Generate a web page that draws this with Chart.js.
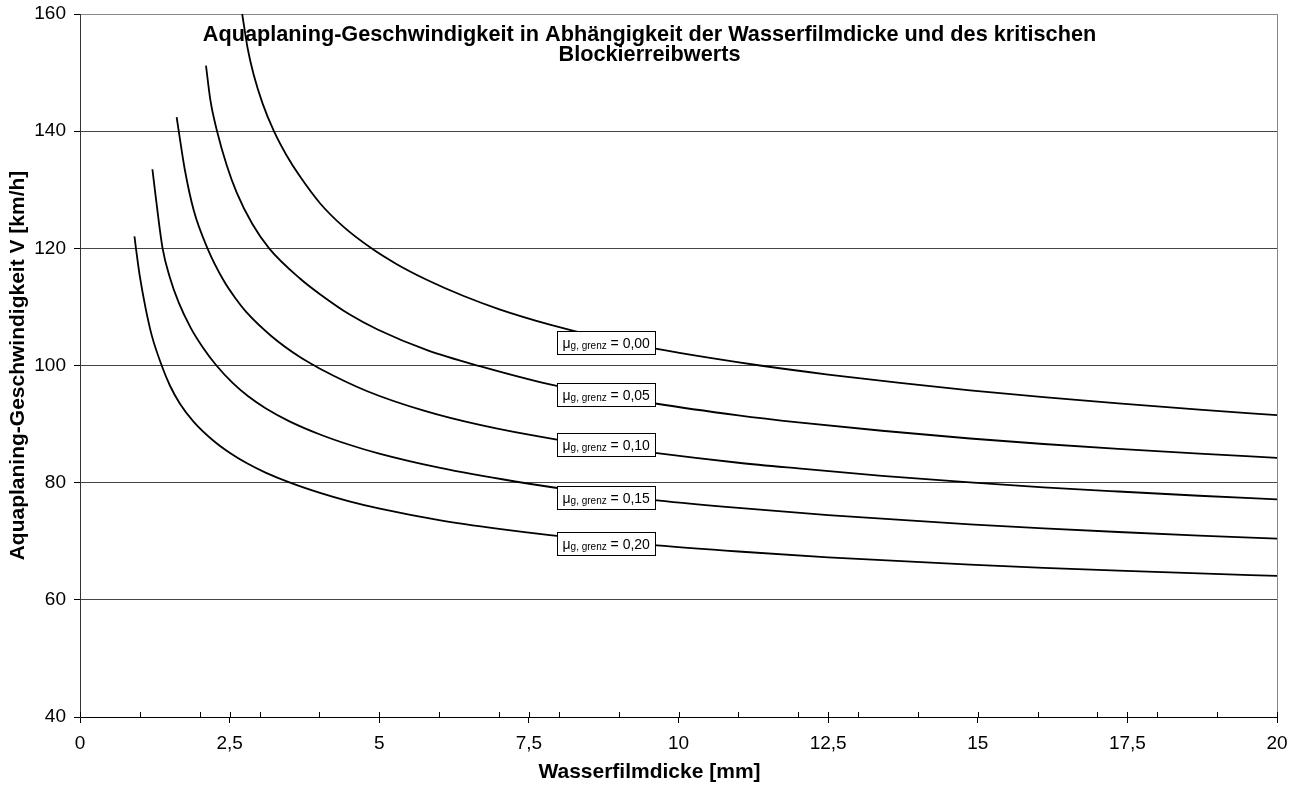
<!DOCTYPE html>
<html><head><meta charset="utf-8">
<script src="https://cdn.jsdelivr.net/npm/chart.js@4/dist/chart.umd.min.js"></script>
<style>html,body{margin:0;padding:0;background:#fff;overflow:hidden}#wrap{width:1295px;height:787px;position:relative}</style>
</head><body><div id="wrap"><canvas id="c"></canvas></div>
<script>
// ---- data ----
const seriesNames = ['0,00', '0,05', '0,10', '0,15', '0,20'];

const h000 = [2.71, 2.80, 2.90, 3.05, 3.24, 3.45, 3.68, 4.01, 4.40, 4.87, 5.30, 5.81, 6.40, 7.02, 7.85, 8.70, 9.64, 10.50, 11.36, 12.50, 13.70, 14.87, 16.10, 17.35, 18.70, 20];
const v000 = [160, 154.2, 149.7, 144.75, 140.0, 135.9, 132.2, 127.7, 123.7, 120.0, 117.25, 114.55, 111.9, 109.55, 106.98, 104.8, 102.83, 101.33, 100.0, 98.46, 97.02, 95.77, 94.6, 93.52, 92.47, 91.53];

const h005 = [2.105, 2.18, 2.29, 2.45, 2.62, 2.88, 3.16, 3.68, 4.01, 4.50, 4.98, 5.81, 6.68, 7.85, 9.64, 11.0, 12.0, 13.4, 14.87, 16.1, 17.35, 18.7, 20];
const v005 = [151.2, 145.2, 140.0, 134.24, 129.48, 124.15, 120.0, 114.8, 112.16, 108.73, 106.1, 102.58, 99.88, 96.78, 93.47, 91.5, 90.3, 88.86, 87.54, 86.6, 85.78, 84.97, 84.24];

const h010 = [1.615, 1.65, 1.75, 1.90, 2.13, 2.40, 2.61, 2.78, 3.20, 3.68, 3.90, 4.01, 4.80, 5.76, 6.70, 7.85, 9.64, 11.0, 12.0, 13.4, 14.87, 16.1, 17.35, 18.7, 20];
const v010 = [142.4, 140.0, 133.5, 126.5, 120.0, 114.5, 111.3, 109.1, 105.0, 101.4, 100.1, 99.45, 95.61, 92.25, 89.81, 87.57, 85.03, 83.4, 82.43, 81.17, 80.05, 79.21, 78.49, 77.77, 77.15];

const h015 = [1.21, 1.27, 1.38, 1.50, 1.65, 1.85, 2.05, 2.28, 2.55, 2.81, 3.10, 3.50, 4.00, 4.50, 5.00, 6.00, 7.27, 8.45, 9.64, 11.0, 12.5, 14.87, 16.1, 17.35, 18.7, 20];
const v015 = [133.5, 128.4, 120.0, 115.08, 110.73, 106.43, 103.13, 100.0, 97.03, 94.74, 92.71, 90.47, 88.27, 86.47, 84.95, 82.55, 80.2, 78.42, 76.98, 75.68, 74.47, 72.89, 72.2, 71.58, 70.97, 70.44];

const h020 = [0.91, 0.935, 1.0, 1.09, 1.2, 1.365, 1.5, 1.67, 1.9, 2.23, 2.5, 2.79, 3.1, 3.51, 4.01, 4.5, 5.01, 6.0, 7.0, 7.85, 9.64, 11.0, 12.5, 14.87, 16.1, 17.35, 18.7, 20];
const v020 = [122.05, 120, 115.2, 110.1, 105.1, 100, 96.63, 93.48, 90.38, 87.15, 85.1, 83.3, 81.72, 80.0, 78.25, 76.8, 75.55, 73.6, 72.1, 71.05, 69.3, 68.25, 67.25, 66.0, 65.45, 64.97, 64.5, 64.1];

const xTickValues = [0, 2.5, 5, 7.5, 10, 12.5, 15, 17.5, 20];
const xMinorValues = [1, 2, 3, 4, 6, 7, 8, 9, 11, 12, 13, 14, 16, 17, 18, 19];
const yTickValues = [40, 60, 80, 100, 120, 140, 160];

// label anchors (data coordinates)
const labelH = 8.79;
const labelV = [103.95, 95.0, 86.5, 77.5, 69.7];

const titleLines = ['Aquaplaning-Geschwindigkeit in Abhängigkeit der Wasserfilmdicke und des kritischen', 'Blockierreibwerts'];
const xTitle = 'Wasserfilmdicke [mm]';
const yTitle = 'Aquaplaning-Geschwindigkeit V [km/h]';

// ---- chart ----
const FF = '"Liberation Sans", Arial, Helvetica, sans-serif';
const hs = [h000, h005, h010, h015, h020];
const vs = [v000, v005, v010, v015, v020];

const datasets = hs.map((h, i) => ({
  label: 'μg, grenz = ' + seriesNames[i],
  data: h.map((x, j) => ({x: x, y: vs[i][j]})),
  borderColor: '#000',
  borderWidth: 1.8,
  pointRadius: 0,
  fill: false,
  cubicInterpolationMode: 'monotone'
}));

const labelPlugin = {
  id: 'seriesLabels',
  afterDatasetsDraw(chart) {
    const {ctx, scales: {x, y}} = chart;
    const f1 = '14px ' + FF, f2 = '10px ' + FF;
    seriesNames.forEach((n, i) => {
      const cx = x.getPixelForValue(labelH), cy = y.getPixelForValue(labelV[i]);
      ctx.save();
      ctx.font = f1;
      const w1 = ctx.measureText('μ').width;
      const w3 = ctx.measureText(' = ' + n).width;
      ctx.font = f2;
      const w2 = ctx.measureText('g, grenz').width;
      const bw = Math.round(w1 + w2 + w3 + 11), bh = 23;
      const bx = Math.round(cx - bw / 2) + 0.5, by = Math.round(cy - bh / 2) + 0.5;
      ctx.fillStyle = '#fff';
      ctx.fillRect(bx, by, bw, bh);
      ctx.strokeStyle = '#000';
      ctx.lineWidth = 1;
      ctx.strokeRect(bx, by, bw, bh);
      ctx.fillStyle = '#000';
      ctx.textBaseline = 'alphabetic';
      ctx.textAlign = 'left';
      let tx = bx + 5;
      const base = by + 16.5;
      ctx.font = f1; ctx.fillText('μ', tx, base); tx += w1;
      ctx.font = f2; ctx.fillText('g, grenz', tx, base + 0.5); tx += w2;
      ctx.font = f1; ctx.fillText(' = ' + n, tx, base);
      ctx.restore();
    });
  }
};

const extrasPlugin = {
  id: 'extras',
  afterDraw(chart) {
    const {ctx, scales: {x}, chartArea} = chart;
    ctx.save();
    ctx.strokeStyle = '#000';
    ctx.lineWidth = 1;
    xMinorValues.concat(xTickValues).forEach(v => {
      const px = Math.round(x.getPixelForValue(v)) + 0.5;
      ctx.beginPath();
      ctx.moveTo(px, chartArea.bottom);
      ctx.lineTo(px, chartArea.bottom - 5);
      ctx.stroke();
    });
    ctx.fillStyle = '#000';
    ctx.textAlign = 'center';
    const cx = chart.width / 2 + 2;
    ctx.font = 'bold 21.7px ' + FF;
    ctx.textBaseline = 'alphabetic';
    ctx.fillText(titleLines[0], cx, 40.5);
    ctx.fillText(titleLines[1], cx, 60.5);
    // x axis title, centred on the page like the reference
    ctx.font = 'bold 21px ' + FF;
    ctx.textBaseline = 'middle';
    ctx.fillText(xTitle, cx, 772);
    ctx.restore();
  }
};

new Chart(document.getElementById('c'), {
  type: 'line',
  data: {datasets},
  options: {
    responsive: true,
    maintainAspectRatio: false,
    animation: false,
    layout: {padding: {top: 14, right: 18, bottom: 0, left: 0}},
    plugins: {legend: {display: false}, tooltip: {enabled: false}, title: {display: false}},
    scales: {
      x: {
        type: 'linear', min: 0, max: 20,
        afterBuildTicks(scale) { scale.ticks = xTickValues.map(v => ({value: v})); },
        afterFit(scale) { scale.height = 70; scale.paddingLeft = 0; scale.paddingRight = 0; },
        ticks: {
          autoSkip: false, maxRotation: 0, color: '#000', padding: 9,
          font: {family: FF, size: 19},
          callback: v => String(v).replace('.', ',')
        },
        grid: {
          drawOnChartArea: true,
          color: c => (c.tick && c.tick.value === 20) ? '#888' : 'rgba(0,0,0,0)',
          tickColor: '#000', tickLength: 6, lineWidth: 1
        },
        border: {color: '#000', width: 1},
        title: {display: false, text: xTitle}
      },
      y: {
        type: 'linear', min: 40, max: 160,
        afterBuildTicks(scale) { scale.ticks = yTickValues.map(v => ({value: v})); },
        afterFit(scale) { scale.width = 80; scale.paddingTop = 0; scale.paddingBottom = 0; },
        ticks: {color: '#000', padding: 8, font: {family: FF, size: 19}},
        grid: {
          color: c => (c.tick && c.tick.value === 160) ? '#888' : '#444',
          tickColor: '#000', tickLength: 6, lineWidth: 1
        },
        border: {color: '#333', width: 1},
        title: {display: true, text: yTitle, color: '#000',
          font: {family: FF, size: 21, weight: 'bold'}, padding: {top: 6, bottom: 0}}
      }
    }
  },
  plugins: [labelPlugin, extrasPlugin]
});
</script>
</body></html>
